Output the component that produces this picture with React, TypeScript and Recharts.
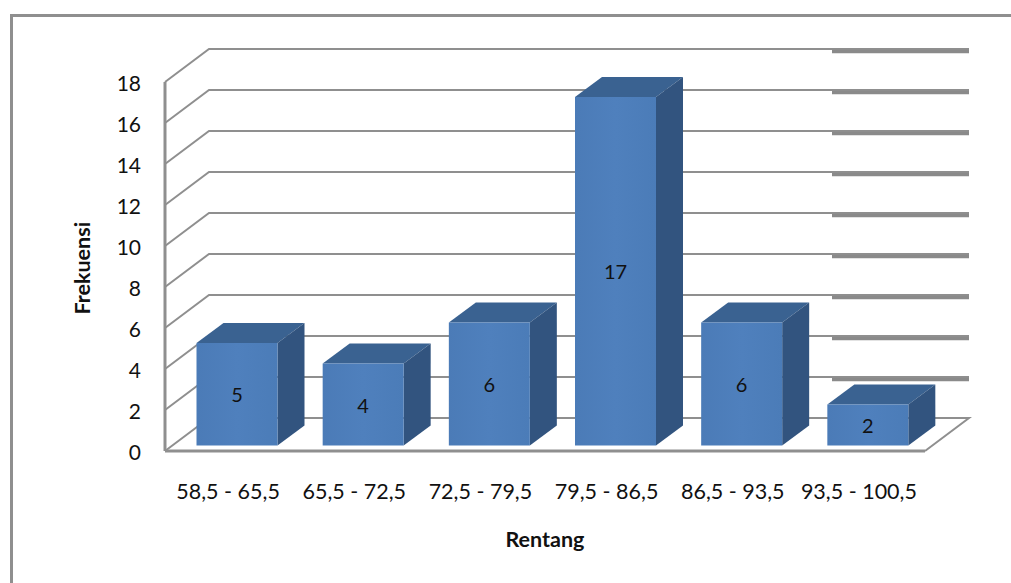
import React from 'react';
import { BarChart, Bar, XAxis, YAxis, CartesianGrid, LabelList } from 'recharts';

const categories = ['58,5 - 65,5', '65,5 - 72,5', '72,5 - 79,5', '79,5 - 86,5', '86,5 - 93,5', '93,5 - 100,5'];
const frequencies = [5, 4, 6, 17, 6, 2];
const yTicks = [0, 2, 4, 6, 8, 10, 12, 14, 16, 18];

const chartData = categories.map((rentang, i) => ({ rentang, frekuensi: frequencies[i] }));

const FONT = 'Lato, "Open Sans", sans-serif';
const GRID_COLOR = '#8f8f8f';

// Depth of the fake 3D box the chart sits in
const WALL_DX = 44;
const WALL_DY = 33;
// Depth of each column, and how far its front face sits inside the box
const BAR_DX = 27;
const BAR_DY = 20;
const INSET_X = 8.5;
const INSET_Y = 5.5;

const WallLine = (props: any) => {
  const { x1, x2, y1, y, height } = props;
  const backY = y1 - WALL_DY;
  const isFloor = Math.abs(y1 - (y + height)) < 1;
  if (isFloor) {
    return (
      <path
        d={`M${x1},${y1} L${x1 + WALL_DX},${backY} L${x2 + WALL_DX},${backY} L${x2},${y1}`}
        fill="none"
        stroke={GRID_COLOR}
        strokeWidth={2}
      />
    );
  }
  return (
    <g>
      <path
        d={`M${x1},${y1} L${x1 + WALL_DX},${backY} L${x2 + WALL_DX},${backY}`}
        fill="none"
        stroke={GRID_COLOR}
        strokeWidth={2}
      />
      <line x1={832} x2={x2 + WALL_DX} y1={backY + 2.5} y2={backY + 2.5} stroke="#8a8a8a" strokeWidth={3.5} />
    </g>
  );
};

const Column = (props: any) => {
  const { x, y, width, height } = props;
  const left = x + INSET_X;
  const right = left + width;
  const top = y - INSET_Y;
  const bottom = top + height;
  return (
    <g>
      <path
        d={`M${left},${top} L${left + BAR_DX},${top - BAR_DY} L${right + BAR_DX},${top - BAR_DY} L${right},${top} Z`}
        fill="#3a6291"
      />
      <path
        d={`M${right},${top} L${right + BAR_DX},${top - BAR_DY} L${right + BAR_DX},${bottom - BAR_DY} L${right},${bottom} Z`}
        fill="#32547f"
      />
      <rect x={left} y={top} width={width} height={height} fill="url(#columnFace)" />
    </g>
  );
};

const ColumnValue = (props: any) => {
  const { x, y, width, height, value } = props;
  return (
    <text
      x={x + INSET_X + width / 2}
      y={y - INSET_Y + height / 2}
      textAnchor="middle"
      dominantBaseline="central"
      fontFamily={FONT}
      fontSize={20}
      fill="#111"
    >
      {value}
    </text>
  );
};

export default function App() {
  return (
    <div style={{ position: 'absolute', left: 0, top: 0, width: 1011, height: 583, background: '#fff', overflow: 'hidden' }}>
      <div
        style={{
          position: 'absolute',
          left: 10,
          top: 14,
          width: 1011,
          height: 583,
          borderLeft: '3px solid #8f8f8f',
          borderTop: '3px solid #8f8f8f',
        }}
      />
      <div style={{ position: 'absolute', left: 0, top: 0 }}>
        <BarChart
          width={1011}
          height={583}
          data={chartData}
          margin={{ top: 82, left: 105, right: 86, bottom: 32 }}
          barCategoryGap={0}
        >
          <defs>
            <linearGradient id="columnFace" x1="0" y1="0" x2="1" y2="0">
              <stop offset="0" stopColor="#4b7bb7" />
              <stop offset="0.5" stopColor="#4f80bd" />
              <stop offset="1" stopColor="#4b7cb8" />
            </linearGradient>
          </defs>
          <CartesianGrid vertical={false} horizontal={(p: any) => <WallLine key={p.key ?? p.index} {...p} />} />
          <XAxis
            dataKey="rentang"
            height={100}
            interval={0}
            padding={{ right: 3 }}
            tickLine={false}
            tickMargin={27}
            axisLine={{ stroke: GRID_COLOR, strokeWidth: 3 }}
            tick={{ fontFamily: FONT, fontSize: 21.5, fill: '#111' }}
            label={{
              value: 'Rentang',
              position: 'insideBottom',
              offset: 4,
              style: { fontFamily: FONT, fontSize: 21.5, fontWeight: 700, fill: '#111' },
            }}
          />
          <YAxis
            width={60}
            domain={[0, 18]}
            ticks={yTicks}
            interval={0}
            tickLine={false}
            tickMargin={18}
            axisLine={{ stroke: GRID_COLOR, strokeWidth: 3 }}
            tick={{ fontFamily: FONT, fontSize: 21, fill: '#111', dy: 1.5 }}
            label={{
              value: 'Frekuensi',
              angle: -90,
              position: 'insideLeft',
              offset: -23,
              dy: 48,
              style: { fontFamily: FONT, fontSize: 21.5, fontWeight: 700, fill: '#111' },
            }}
          />
          <Bar dataKey="frekuensi" barSize={81} shape={<Column />} isAnimationActive={false}>
            <LabelList dataKey="frekuensi" content={<ColumnValue />} />
          </Bar>
        </BarChart>
      </div>
    </div>
  );
}
